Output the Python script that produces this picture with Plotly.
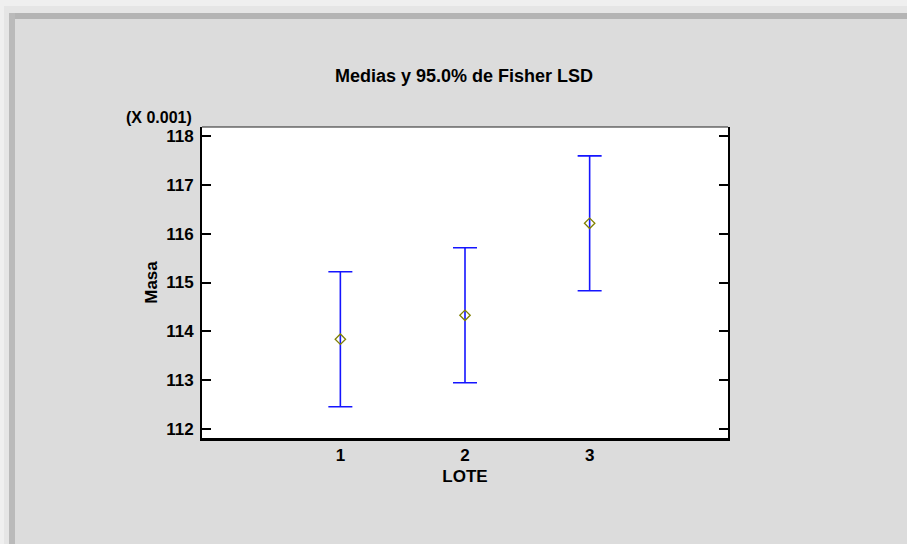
import plotly.graph_objects as go

# Means and 95% Fisher LSD half-intervals per lot (values in units of 0.001)
lote = [1, 2, 3]
medias = [113.84, 114.33, 116.21]
lsd_mitad = [1.38, 1.38, 1.38]
y_ticks = [112, 113, 114, 115, 116, 117, 118]

W, H = 907, 544
ML, MR, MT, MB = 202, 179, 127, 106
PW, PH = W - ML - MR, H - MT - MB


def px_x(px):
    return (px - ML) / PW


def px_y(py):
    return (H - MB - py) / PH


def rect(x0, y0, x1, y1, color):
    return dict(type="rect", xref="paper", yref="paper",
                x0=px_x(x0), x1=px_x(x1), y0=px_y(y1), y1=px_y(y0),
                fillcolor=color, line=dict(width=0), layer="below")


def bold(size):
    return dict(family="Arial, Liberation Sans, sans-serif", size=size,
                color="black", weight="bold")


fig = go.Figure()
fig.add_trace(go.Scatter(
    x=lote, y=medias, mode="markers",
    marker=dict(symbol="diamond-open", size=8, color="#808000",
                line=dict(width=1.3, color="#808000")),
    error_y=dict(type="data", array=lsd_mitad, visible=True,
                 color="#1515ff", thickness=1.6, width=12),
    showlegend=False, hoverinfo="skip",
))

shapes = [
    # window frame bevel
    rect(0, 0, W, 13, "#efefef"),
    rect(0, 0, 9, H, "#efefef"),
    rect(4, 6, W, 13, "#e5e5e5"),
    rect(4, 6, 9, H, "#e5e5e5"),
    rect(9, 13, W, 19, "#b4b4b4"),
    rect(9, 13, 15, H, "#bababa"),
    # thin top border of the plot box
    dict(type="line", xref="paper", yref="paper", x0=0, x1=1, y0=1, y1=1,
         line=dict(color="#222222", width=1.2)),
]

fig.update_layout(
    width=W, height=H,
    margin=dict(l=ML, r=MR, t=MT, b=MB),
    paper_bgcolor="#dcdcdc", plot_bgcolor="white",
    shapes=shapes,
    title=dict(text="Medias y 95.0% de Fisher LSD", x=464 / W, xanchor="center",
               y=1 - 76 / H, yanchor="middle", yref="container", font=bold(18)),
    xaxis=dict(range=[-0.11, 4.11], tickvals=lote, ticktext=[str(v) for v in lote],
               showgrid=False, zeroline=False, showline=True, linecolor="black",
               linewidth=2.5, mirror=False, ticks="", tickfont=bold(17),
               title=dict(text="LOTE", font=bold(17), standoff=6)),
    yaxis=dict(range=[111.82, 118.18], tickvals=y_ticks,
               showgrid=False, zeroline=False, showline=True, linecolor="black",
               linewidth=2, mirror="ticks", ticks="inside", ticklen=9,
               tickwidth=2, tickcolor="black", tickfont=bold(17),
               ticklabelstandoff=3,
               title=dict(text="Masa", font=bold(17), standoff=4)),
    annotations=[dict(text="(X 0.001)", xref="paper", yref="paper",
                      x=px_x(194), y=px_y(117), xanchor="right", yanchor="middle",
                      showarrow=False, font=bold(16))],
)

fig.write_html("out.html")
